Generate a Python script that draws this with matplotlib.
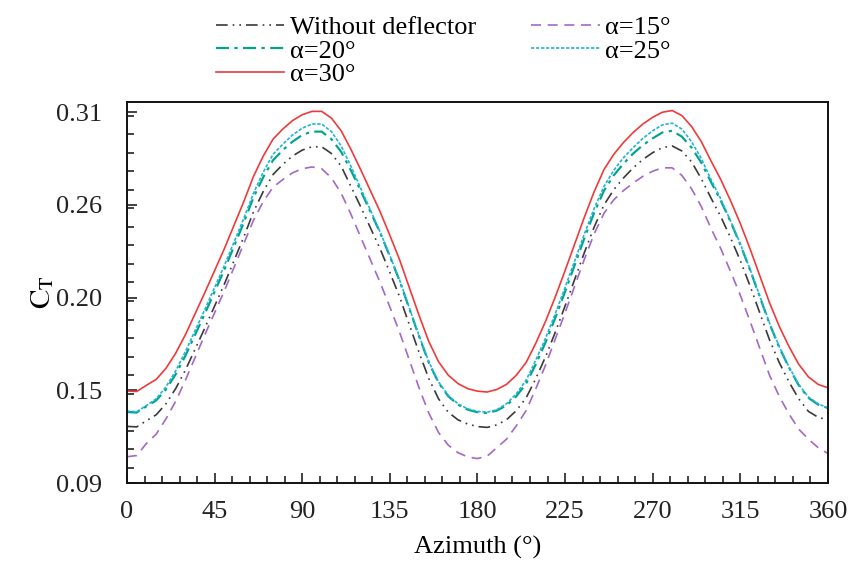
import matplotlib
matplotlib.use("Agg")
import matplotlib.pyplot as plt
from matplotlib.ticker import FixedLocator, MultipleLocator

plt.rcParams['font.family'] = ['Liberation Serif', 'DejaVu Serif']
plt.rcParams['mathtext.fontset'] = 'stix'

azimuth = list(range(0, 361, 5))

ct_without = [0.1236, 0.1233, 0.1270, 0.1305, 0.1370, 0.1460, 0.1570, 0.1695, 0.1820, 0.1950,
              0.2080, 0.2220, 0.2360, 0.2510, 0.2630, 0.2730, 0.2790, 0.2840, 0.2875, 0.2895,
              0.2895, 0.2855, 0.2780, 0.2660, 0.2540, 0.2415, 0.2290, 0.2150, 0.2005, 0.1840,
              0.1675, 0.1520, 0.1400, 0.1320, 0.1275, 0.1250, 0.1235, 0.1230, 0.1245, 0.1276,
              0.1330, 0.1405, 0.1520, 0.1650, 0.1795, 0.1950, 0.2110, 0.2270, 0.2420, 0.2550,
              0.2640, 0.2710, 0.2770, 0.2820, 0.2860, 0.2890, 0.2900, 0.2870, 0.2805, 0.2705,
              0.2590, 0.2480, 0.2355, 0.2220, 0.2070, 0.1910, 0.1750, 0.1615, 0.1500, 0.1400,
              0.1325, 0.1290, 0.1275]
ct_a15 = [0.1056, 0.1063, 0.1135, 0.1190, 0.1280, 0.1385, 0.1510, 0.1645, 0.1780, 0.1910,
          0.2040, 0.2180, 0.2320, 0.2460, 0.2570, 0.2655, 0.2700, 0.2740, 0.2765, 0.2775,
          0.2765, 0.2710, 0.2620, 0.2495, 0.2360, 0.2225, 0.2090, 0.1945, 0.1795, 0.1630,
          0.1465, 0.1315, 0.1200, 0.1125, 0.1080, 0.1055, 0.1045, 0.1060, 0.1110, 0.1161,
          0.1240, 0.1330, 0.1460, 0.1600, 0.1755, 0.1910, 0.2070, 0.2230, 0.2380, 0.2500,
          0.2580, 0.2635, 0.2680, 0.2720, 0.2750, 0.2770, 0.2770, 0.2725, 0.2645, 0.2540,
          0.2410, 0.2290, 0.2155, 0.2015, 0.1860, 0.1700, 0.1540, 0.1415, 0.1310, 0.1220,
          0.1160, 0.1110, 0.1075]
ct_a20 = [0.1321, 0.1318, 0.1355, 0.1390, 0.1455, 0.1545, 0.1655, 0.1780, 0.1905, 0.2035,
          0.2165, 0.2305, 0.2445, 0.2595, 0.2715, 0.2815, 0.2875, 0.2925, 0.2965, 0.2985,
          0.2985, 0.2940, 0.2865, 0.2755, 0.2635, 0.2510, 0.2385, 0.2245, 0.2100, 0.1935,
          0.1770, 0.1615, 0.1495, 0.1415, 0.1365, 0.1335, 0.1320, 0.1315, 0.1330, 0.1361,
          0.1415, 0.1490, 0.1605, 0.1735, 0.1880, 0.2035, 0.2195, 0.2355, 0.2505, 0.2635,
          0.2725, 0.2795, 0.2855, 0.2905, 0.2945, 0.2980, 0.2990, 0.2955, 0.2890, 0.2800,
          0.2685, 0.2575, 0.2450, 0.2315, 0.2165, 0.2005, 0.1845, 0.1705, 0.1585, 0.1480,
          0.1405, 0.1365, 0.1345]
ct_a25 = [0.1326, 0.1323, 0.1360, 0.1400, 0.1470, 0.1565, 0.1680, 0.1805, 0.1930, 0.2060,
          0.2190, 0.2330, 0.2470, 0.2620, 0.2745, 0.2850, 0.2910, 0.2965, 0.3005, 0.3030,
          0.3030, 0.2985, 0.2900, 0.2780, 0.2650, 0.2520, 0.2390, 0.2250, 0.2105, 0.1940,
          0.1775, 0.1620, 0.1500, 0.1420, 0.1370, 0.1340, 0.1325, 0.1320, 0.1335, 0.1371,
          0.1430, 0.1510, 0.1630, 0.1760, 0.1905, 0.2060, 0.2220, 0.2380, 0.2530, 0.2660,
          0.2755, 0.2830, 0.2890, 0.2945, 0.2990, 0.3025, 0.3035, 0.3000, 0.2925, 0.2825,
          0.2700, 0.2585, 0.2455, 0.2320, 0.2170, 0.2010, 0.1850, 0.1710, 0.1590, 0.1485,
          0.1410, 0.1370, 0.1345]
ct_a30 = [0.1446, 0.1443, 0.1480, 0.1515, 0.1580, 0.1670, 0.1780, 0.1905, 0.2030, 0.2160,
          0.2290, 0.2430, 0.2570, 0.2720, 0.2840, 0.2940, 0.3000, 0.3050, 0.3085, 0.3105,
          0.3105, 0.3065, 0.2990, 0.2880, 0.2760, 0.2635, 0.2510, 0.2370, 0.2225, 0.2060,
          0.1895, 0.1740, 0.1620, 0.1540, 0.1490, 0.1460, 0.1445, 0.1440, 0.1455, 0.1486,
          0.1540, 0.1615, 0.1730, 0.1860, 0.2005, 0.2160, 0.2320, 0.2480, 0.2630, 0.2760,
          0.2850, 0.2920, 0.2980, 0.3030, 0.3070, 0.3100, 0.3110, 0.3080, 0.3015, 0.2925,
          0.2810, 0.2700, 0.2575, 0.2440, 0.2290, 0.2130, 0.1970, 0.1830, 0.1710, 0.1605,
          0.1530, 0.1485, 0.1465]

x_ticks = [0, 45, 90, 135, 180, 225, 270, 315, 360]
y_ticks = [0.09, 0.145, 0.20, 0.255, 0.31]
y_ticklabels = ["0.09", "0.15", "0.20", "0.26", "0.31"]

fig = plt.figure(figsize=(8.5, 5.61), dpi=100)
ax = fig.add_axes([0.1494, 0.139, 0.8246, 0.679])

lw = 1.2
l_wo, = ax.plot(azimuth, ct_without, color='#3a3a3a', lw=lw, ls=(0, (7, 3, 1, 3, 1, 3)),
                label='Without deflector')
l_15, = ax.plot(azimuth, ct_a15, color='#a368c8', lw=lw, ls=(0, (6, 4)), label='α=15°')
l_20, = ax.plot(azimuth, ct_a20, color='#00a48a', lw=lw * 1.3, ls=(0, (6, 2.5, 1.5, 2.5)), label='α=20°')
l_25, = ax.plot(azimuth, ct_a25, color='#22b4d8', lw=lw, ls=(0, (2, 1)), label='α=25°')
l_30, = ax.plot(azimuth, ct_a30, color='#f03a3a', lw=lw, ls='-', label='α=30°')

ax.set_xlim(0, 360)
ax.set_ylim(0.09, 0.316)
ax.xaxis.set_major_locator(FixedLocator(x_ticks))
ax.xaxis.set_minor_locator(MultipleLocator(9))
ax.yaxis.set_major_locator(FixedLocator(y_ticks))
ax.set_yticklabels(y_ticklabels)
ax.yaxis.set_minor_locator(MultipleLocator(0.011))

ax.tick_params(which='both', direction='in', top=False, right=False, labelsize=19,
               width=1.2, colors='#222222')
ax.tick_params(which='major', length=7)
ax.tick_params(which='minor', length=5)
ax.tick_params(axis='y', which='major', pad=18)
ax.tick_params(axis='x', which='major', pad=13)
for s in ax.spines.values():
    s.set_linewidth(1.4)
    s.set_color('#111111')

ax.set_xlabel('Azimuth (°)', fontsize=19, labelpad=9)
ax.set_ylabel(r'$\mathrm{C_T}$', fontsize=21, labelpad=0)

handles = [l_wo, l_20, l_30, l_15, l_25]
fig.legend(handles=handles, labels=[h.get_label() for h in handles], ncol=2,
           loc='upper left', bbox_to_anchor=(0.232, 1.005), frameon=False,
           fontsize=19, handlelength=2.6, handletextpad=0.2, columnspacing=2.1,
           labelspacing=0.0, borderpad=0.2)

fig.savefig('out.png', dpi=100)
